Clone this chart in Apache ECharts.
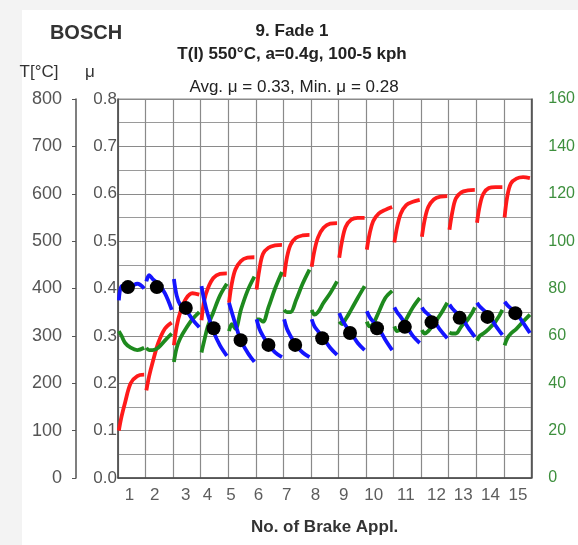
<!DOCTYPE html>
<html><head><meta charset="utf-8">
<script src="https://cdn.jsdelivr.net/npm/echarts@6/dist/echarts.min.js"></script>
<style>html,body{margin:0;padding:0;background:#fff}#c{width:578px;height:545px}</style>
</head><body><div id="c"></div>
<script>
// sample positions inside each brake application (fraction of one application step)
const sampleT = [0.03, 0.13, 0.26, 0.46, 0.7, 0.95];

// Temperature T [°C] per application (left outer axis)
const tempSegs = [
  [100, 130, 160, 200, 215, 218],
  [185, 215, 245, 285, 315, 328],
  [280, 320, 350, 378, 390, 387],
  [333, 375, 400, 422, 431, 432],
  [370, 410, 440, 458, 465, 466],
  [398, 440, 473, 486, 491, 492],
  [425, 465, 492, 507, 512, 513],
  [446, 480, 508, 528, 537, 538],
  [465, 500, 530, 545, 549, 549],
  [482, 515, 542, 558, 566, 572],
  [497, 530, 558, 576, 583, 587],
  [509, 545, 572, 588, 594, 595],
  [524, 560, 590, 603, 607, 608],
  [539, 575, 600, 612, 614, 614],
  [550, 595, 622, 632, 635, 633]
];

// Friction coefficient μ per application
const muSegs = [
  [0.375, 0.405, 0.405, 0.405, 0.41, 0.40],
  [0.415, 0.428, 0.42, 0.41, 0.39, 0.355],
  [0.42, 0.385, 0.365, 0.355, 0.335, 0.318],
  [0.405, 0.375, 0.345, 0.31, 0.28, 0.258],
  [0.37, 0.35, 0.325, 0.29, 0.265, 0.245],
  [0.335, 0.315, 0.30, 0.282, 0.265, 0.255],
  [0.335, 0.315, 0.30, 0.28, 0.265, 0.255],
  [0.335, 0.32, 0.31, 0.295, 0.275, 0.26],
  [0.348, 0.335, 0.322, 0.306, 0.285, 0.27],
  [0.352, 0.34, 0.33, 0.316, 0.292, 0.27],
  [0.36, 0.35, 0.34, 0.322, 0.30, 0.285],
  [0.36, 0.352, 0.345, 0.333, 0.312, 0.295],
  [0.366, 0.358, 0.35, 0.34, 0.318, 0.298],
  [0.37, 0.362, 0.355, 0.344, 0.322, 0.302],
  [0.372, 0.365, 0.358, 0.348, 0.328, 0.306]
];

// Green trace (right axis 0-160)
const greenSegs = [
  [62, 60, 57, 55, 54, 55],
  [55, 54, 54, 55, 58, 61],
  [49, 55, 59, 63, 67, 70],
  [53, 58, 64, 70, 77, 82],
  [62, 65, 63, 71, 79, 85],
  [67, 67, 66, 72, 80, 87],
  [71, 70, 70, 75, 82, 88],
  [71, 69, 70, 74, 78, 83],
  [66, 65, 67, 71, 76, 81],
  [66, 64, 65, 70, 76, 79],
  [64, 62, 63, 67, 72, 76],
  [62.5, 61, 62, 65, 69, 74],
  [61.5, 61, 61, 64, 67, 72],
  [58, 60, 61, 63, 66, 71],
  [56, 59, 61, 63, 66, 69]
];

// Average μ per application (black dots)
const dotX = [0.36, 1.41, 2.46, 3.47, 4.45, 5.46, 6.43, 7.41, 8.42, 9.40, 10.41, 11.38, 12.40, 13.41, 14.42];
const dotMu = [0.403, 0.403, 0.359, 0.316, 0.291, 0.281, 0.281, 0.295, 0.306, 0.316, 0.319, 0.329, 0.338, 0.340, 0.348];

// Application number labels under the axis
const xLabelPos = [0.42, 1.33, 2.46, 3.25, 4.1, 5.1, 6.12, 7.17, 8.19, 9.28, 10.45, 11.56, 12.53, 13.52, 14.52];
const xLabelText = ['1','2','3','4','5','6','7','8','9','10','11','12','13','14','15'];

const FONT = 'Liberation Sans, Arial, sans-serif';

function build(segs) {
  const out = [];
  segs.forEach((seg, k) => {
    seg.forEach((v, i) => out.push([k + sampleT[i], v]));
    out.push([k + 0.985, null]);
  });
  return out;
}

function txt(text, x, y, font, fill) {
  return {type: 'text', x: x, y: y, z: 10, style: {text: text, font: font, fill: fill,
    align: 'center', verticalAlign: 'middle', textAlign: 'center', textVerticalAlign: 'middle'}};
}

const chart = echarts.init(document.getElementById('c'), null, {renderer: 'canvas'});
const lineBase = {type: 'line', showSymbol: false, symbol: 'none', smooth: 0.35, connectNulls: false, silent: true};

chart.setOption({
  backgroundColor: '#f3f3f3',
  animation: false,
  textStyle: {fontFamily: FONT},
  grid: {left: 118, right: 44, top: 99, bottom: 67, show: true, borderColor: '#8a8a8a', borderWidth: 1, backgroundColor: 'transparent'},
  graphic: [
    {type: 'rect', z: -10, silent: true, shape: {x: 22, y: 10, width: 556, height: 535}, style: {fill: '#ffffff'}},
    txt('BOSCH', 86, 33, 'bold 20px ' + FONT, '#333'),
    txt('9. Fade 1', 292, 31, 'bold 17px ' + FONT, '#222'),
    txt('T(I) 550°C, a=0.4g, 100-5 kph', 292, 54, 'bold 17px ' + FONT, '#222'),
    txt('Avg. μ = 0.33, Min. μ = 0.28', 294, 87, '17px ' + FONT, '#222'),
    txt('T[°C]', 39, 72, '17px ' + FONT, '#333'),
    txt('μ', 90, 72, '17px ' + FONT, '#333')
  ],
  xAxis: {
    type: 'value', min: 0, max: 15, interval: 1,
    axisLine: {show: true, lineStyle: {color: '#444', width: 1.5}},
    axisTick: {show: false},
    axisLabel: {show: false},
    splitLine: {show: true, lineStyle: {color: '#8a8a8a', width: 1.2}},
    name: 'No. of Brake Appl.', nameLocation: 'middle', nameGap: 41,
    nameTextStyle: {fontFamily: FONT, fontSize: 17, fontWeight: 'bold', color: '#333'}
  },
  yAxis: [
    {
      type: 'value', min: 0, max: 0.8, interval: 0.1, position: 'left',
      axisLine: {show: true, lineStyle: {color: '#444', width: 1.5}},
      axisTick: {show: false},
      minorTick: {show: false, splitNumber: 2},
      minorSplitLine: {show: true, lineStyle: {color: '#9a9a9a', width: 1.2}},
      splitLine: {show: true, lineStyle: {color: '#8a8a8a', width: 1.2}},
      axisLabel: {margin: 1, fontSize: 17, color: '#555', fontFamily: FONT, formatter: v => v.toFixed(1)}
    },
    {
      type: 'value', min: 0, max: 800, interval: 100, position: 'left', offset: 42,
      axisLine: {show: true, lineStyle: {color: '#555', width: 1.5}},
      axisTick: {show: true, length: 4, lineStyle: {color: '#555'}},
      splitLine: {show: false},
      axisLabel: {margin: 14, fontSize: 18, color: '#555', fontFamily: FONT}
    },
    {
      type: 'value', min: 0, max: 160, interval: 20, position: 'right',
      axisLine: {show: true, lineStyle: {color: '#444', width: 1.5}},
      axisTick: {show: false},
      splitLine: {show: false},
      axisLabel: {margin: 17, fontSize: 16, color: '#3d8f3d', fontFamily: FONT}
    }
  ],
  series: [
    Object.assign({}, lineBase, {name: 'T', yAxisIndex: 1, data: build(tempSegs), lineStyle: {color: '#ff1a1a', width: 3.8}, z: 3}),
    Object.assign({}, lineBase, {name: 'green', yAxisIndex: 2, data: build(greenSegs), lineStyle: {color: '#1e8a1e', width: 3.8}, z: 4}),
    Object.assign({}, lineBase, {name: 'mu', yAxisIndex: 0, data: build(muSegs), lineStyle: {color: '#1414ff', width: 3.8}, z: 5}),
    {type: 'scatter', name: 'avg', yAxisIndex: 0, data: dotX.map((x, i) => [x, dotMu[i]]), symbol: 'circle', symbolSize: 14,
      itemStyle: {color: '#000', opacity: 1}, z: 6, silent: true},
    {type: 'scatter', name: 'labels', yAxisIndex: 0, clip: false, silent: true, z: 7,
      data: xLabelPos.map(x => [x, 0]), symbolSize: 1, itemStyle: {color: 'rgba(0,0,0,0)'},
      label: {show: true, position: 'bottom', distance: 8, fontSize: 17, color: '#333', fontFamily: FONT,
        formatter: p => xLabelText[p.dataIndex]}}
  ]
});
</script>
</body></html>
